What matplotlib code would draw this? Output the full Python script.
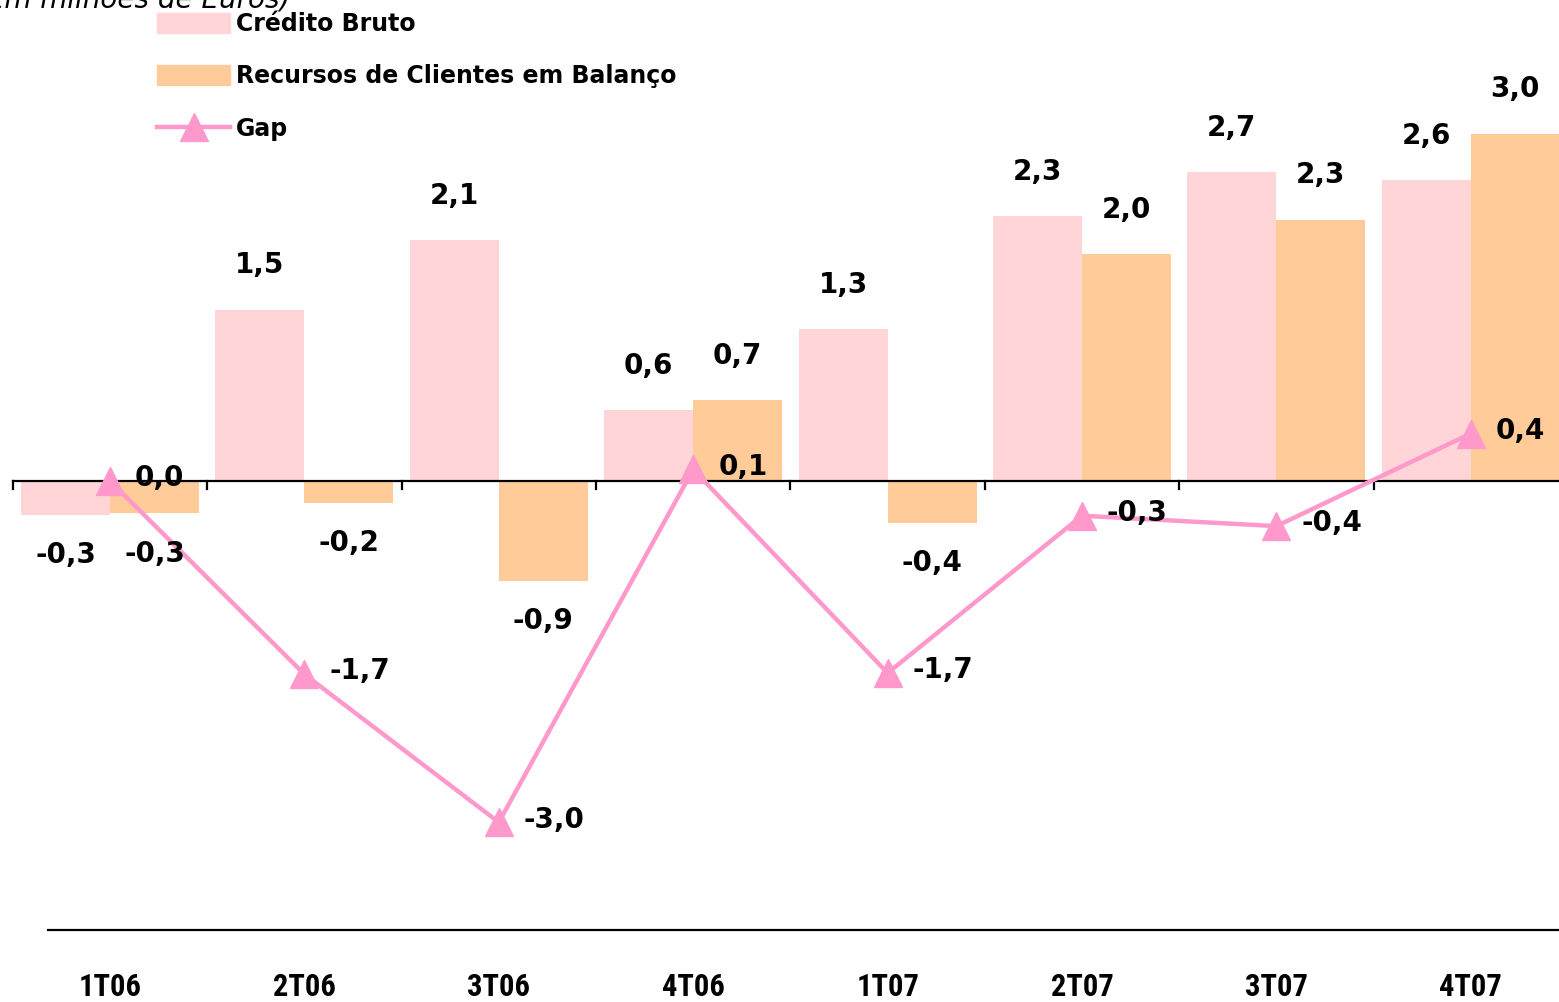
import matplotlib
matplotlib.use("Agg")
import matplotlib.pyplot as plt
from matplotlib import font_manager
from matplotlib.patches import Patch
from matplotlib.lines import Line2D
import numpy as np

# dados (milhões de euros)
trimestres = ['1T06', '2T06', '3T06', '4T06', '1T07', '2T07', '3T07', '4T07']
credito = [-0.29, 1.48, 2.08, 0.61, 1.31, 2.29, 2.67, 2.60]
recursos = [-0.28, -0.19, -0.86, 0.70, -0.36, 1.96, 2.26, 3.00]
gap = [0.0, -1.67, -2.95, 0.10, -1.66, -0.30, -0.39, 0.41]

# cores
cor_credito = '#FFD5D8'
cor_recursos = '#FFCC99'
cor_gap = '#FF99CC'

# fonte estreita para o eixo, se existir
nomes = {f.name for f in font_manager.fontManager.ttflist}
narrow = 'DejaVu Sans'
for nome in ['Roboto Condensed', 'Liberation Sans Narrow', 'DejaVu Sans Condensed']:
    if nome in nomes:
        narrow = nome
        break

fig = plt.figure(figsize=(15.59, 10.02), dpi=100)
ax = fig.add_axes([0, 0, 1, 1])

# escala: 194.4 px por trimestre, 115.7 px por unidade
ax.set_xlim(-110 / 194.4, (1559 - 110) / 194.4)
ax.set_ylim((481 - 1002) / 115.7, 481 / 115.7)
ax.axis('off')

x = np.arange(len(trimestres))
w = 0.458
ax.bar(x - w / 2, credito, w, color=cor_credito, zorder=1)
ax.bar(x + w / 2, recursos, w, color=cor_recursos, zorder=1)

# eixo do zero com marcas entre categorias
ax.plot([-0.5, 7.6], [0, 0], color='black', lw=1.6, zorder=2)
for b in x - 0.5:
    ax.plot([b, b], [0, -0.07], color='black', lw=1.6, zorder=2)

# linha inferior e rótulos das categorias
ax.plot([-0.32, 7.6], [-3.88, -3.88], color='black', lw=1.6, zorder=2)
for xi, t in zip(x, trimestres):
    ax.text(xi, -4.373, t, ha='center', va='center', fontsize=22,
            fontweight='bold', family=narrow)

ax.plot(x, gap, color=cor_gap, lw=3.2, marker='^', markersize=20, zorder=3)

def rotulo(v):
    return f'{v:.1f}'.replace('.', ',')

lbl = dict(fontsize=20, fontweight='bold', ha='center', va='center',
           textcoords='offset points', zorder=4)
for xi, v in zip(x - w / 2, credito):
    ax.annotate(rotulo(v), (xi, v), xytext=(0, 32 if v > 0 else -29), **lbl)
for xi, v in zip(x + w / 2, recursos):
    ax.annotate(rotulo(v), (xi, v), xytext=(0, 32 if v > 0 else -29), **lbl)
for xi, v in zip(x, gap):
    ax.annotate(rotulo(v), (xi, v), xytext=(18, 2), textcoords='offset points',
                fontsize=20, fontweight='bold', ha='left', va='center', zorder=4)

# titulo cortado no topo
fig.text(290 / 1559, 1 + 1 / 1002, '(Em milhões de Euros)', ha='right',
         va='center', fontsize=20, style='italic')

handles = [Patch(color=cor_credito), Patch(color=cor_recursos),
           Line2D([], [], color=cor_gap, lw=3.2, marker='^', markersize=20)]
ax.legend(handles, ['Crédito Bruto', 'Recursos de Clientes em Balanço', 'Gap'],
          loc='upper left', bbox_to_anchor=(157 / 1559, 1 - 12 / 1002),
          bbox_transform=fig.transFigure, frameon=False, borderpad=0,
          borderaxespad=0, handlelength=3.1, handleheight=0.95,
          labelspacing=1.2, handletextpad=0.25,
          prop={'family': 'DejaVu Sans', 'weight': 'bold', 'size': 17})

fig.savefig('out.png', dpi=100)
